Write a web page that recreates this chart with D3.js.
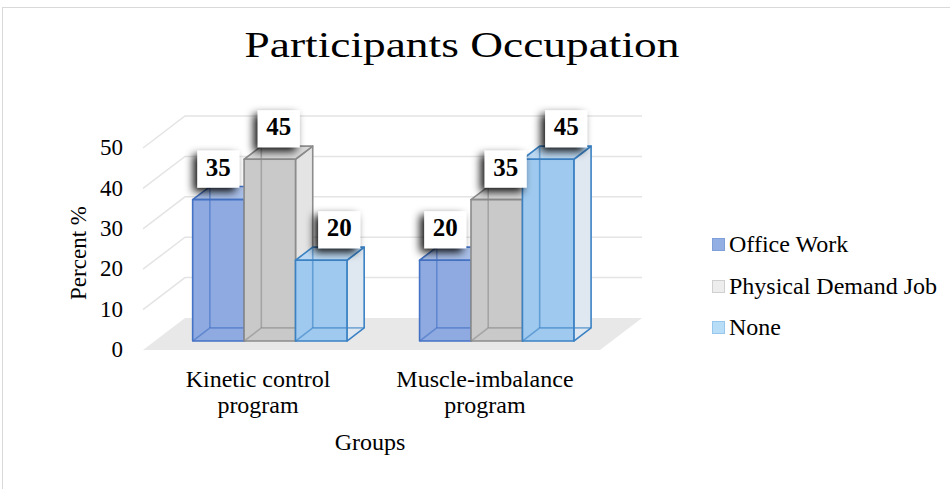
<!DOCTYPE html>
<html>
<head>
<meta charset="utf-8">
<script src="https://cdn.jsdelivr.net/npm/d3@7"></script>
<style>
  body { margin: 0; background: #fff; }
  svg { display: block; font-family: "Liberation Serif", "Times New Roman", serif; }
</style>
</head>
<body>
<svg width="950" height="489"></svg>
<script>
// Chart data
var categories = ["Kinetic control program", "Muscle-imbalance program"];
var series = ["Office Work", "Physical Demand Job", "None"];
var officeWork = [35, 20];
var physicalDemand = [45, 35];
var noneJob = [20, 45];
var yTicks = [0, 10, 20, 30, 40, 50];

var values = [officeWork, physicalDemand, noneJob];

// colours per series: front face, side face, top face, edge
var styles = [
  { front: "#8eaae0", side: "#c3d2ee", top: "#a9bfe8", edge: "#4472c4", key: "#92aee3", keyEdge: "#7f9fd9" },
  { front: "#c9c9c9", side: "#e4e4e4", top: "#d9d9d9", edge: "#8c8c8c", key: "#ededed", keyEdge: "#d0d0d0" },
  { front: "#9fc9ef", side: "#dfe8f1", top: "#bcd9f3", edge: "#3b82c4", key: "#b8def7", keyEdge: "#98c7ee" }
];

var svg = d3.select("svg"),
    width = +svg.attr("width"),
    height = +svg.attr("height");

// oblique depth of the plot box (front plane -> back wall)
var depthX = 42, depthY = 32;
var t0 = 0.28, t1 = 0.69; // depth of the columns

var y = d3.scaleLinear().domain([0, 50]).range([350, 148]);
var x0 = d3.scaleBand().domain(categories).range([143, 600])
    .paddingInner(0.32).paddingOuter(0.167);
var x1 = d3.scaleBand().domain(series).range([0, x0.bandwidth()]);

function pt(px, v, t) { return [px + depthX * t, y(v) - depthY * t]; }

// drop shadow for the data labels
var defs = svg.append("defs");
defs.append("filter").attr("id", "shadow")
    .attr("x", "-60%").attr("y", "-60%").attr("width", "220%").attr("height", "220%")
  .append("feDropShadow")
    .attr("dx", -4).attr("dy", 4).attr("stdDeviation", 4)
    .attr("flood-color", "#000").attr("flood-opacity", 0.95);

// outer border
svg.append("rect")
    .attr("x", 2.5).attr("y", 7.5).attr("width", 960).attr("height", 500)
    .attr("fill", "none").attr("stroke", "#d9d9d9");

// Title
svg.append("text")
    .attr("x", 462).attr("y", 57)
    .attr("text-anchor", "middle")
    .attr("font-size", 36)
    .attr("textLength", 435).attr("lengthAdjust", "spacingAndGlyphs")
    .text("Participants Occupation");

var x0min = x0.range()[0], x0max = x0.range()[1];

// Floor
var floor = [pt(x0min, 0, 0), pt(x0max, 0, 0), pt(x0max, 0, 1), pt(x0min, 0, 1)];
svg.append("polygon")
    .attr("points", floor.join(" "))
    .attr("fill", "#e8e8e8");

// Gridlines: side wall then back wall
svg.append("g").selectAll("polyline")
  .data(yTicks.slice(1))
  .enter().append("polyline")
    .attr("points", function(d) { return [pt(x0min, d, 0), pt(x0min, d, 1), pt(x0max, d, 1)].join(" "); })
    .attr("fill", "none")
    .attr("stroke", "#e4e4e4")
    .attr("stroke-width", 1.5);

// Y tick labels
svg.append("g").selectAll("text")
  .data(yTicks)
  .enter().append("text")
    .attr("x", 123)
    .attr("y", function(d) { return y(d) + 2; })
    .attr("text-anchor", "end")
    .attr("dominant-baseline", "middle")
    .attr("font-size", 23)
    .text(function(d) { return d; });

// Y axis title
svg.append("text")
    .attr("transform", "translate(86,253) rotate(-90)")
    .attr("text-anchor", "middle")
    .attr("font-size", 23)
    .text("Percent %");

// Category labels (wrapped at the last space)
var cat = svg.append("g").selectAll("text")
  .data(categories)
  .enter().append("text")
    .attr("text-anchor", "middle")
    .attr("font-size", 24);
cat.each(function(d) {
  var i = d.lastIndexOf(" ");
  var lines = [d.slice(0, i), d.slice(i + 1)];
  var cx = x0(d) + x0.bandwidth() / 2;
  d3.select(this).selectAll("tspan")
    .data(lines)
    .enter().append("tspan")
      .attr("x", cx)
      .attr("y", function(l, k) { return 387 + k * 26; })
      .text(function(l) { return l; });
});

// X axis title
svg.append("text")
    .attr("x", 370).attr("y", 450)
    .attr("text-anchor", "middle")
    .attr("font-size", 24)
    .text("Groups");

// Build the bar list
var bars = [];
categories.forEach(function(c, ci) {
  series.forEach(function(s, si) {
    bars.push({ cat: c, series: s, si: si, value: values[si][ci] });
  });
});

var barG = svg.append("g");
bars.forEach(function(b) {
  var st = styles[b.si];
  var xl = x0(b.cat) + x1(b.series), xr = xl + x1.bandwidth();
  var fbl = pt(xl, 0, t0), fbr = pt(xr, 0, t0), ftl = pt(xl, b.value, t0), ftr = pt(xr, b.value, t0);
  var bbl = pt(xl, 0, t1), bbr = pt(xr, 0, t1), btl = pt(xl, b.value, t1), btr = pt(xr, b.value, t1);
  var g = barG.append("g")
      .attr("stroke", st.edge)
      .attr("stroke-width", 1.6)
      .attr("stroke-linejoin", "round");
  g.append("polygon").attr("points", [fbr, bbr, btr, ftr].join(" ")).attr("fill", st.side);
  g.append("polygon").attr("points", [ftl, ftr, btr, btl].join(" ")).attr("fill", st.top);
  g.append("polygon").attr("points", [fbl, fbr, ftr, ftl].join(" ")).attr("fill", st.front);
  // hidden edges seen through the column
  g.append("polyline")
      .attr("points", [fbl, bbl, bbr].join(" "))
      .attr("fill", "none").attr("stroke-opacity", 0.6);
  g.append("line")
      .attr("x1", bbl[0]).attr("y1", bbl[1]).attr("x2", btl[0]).attr("y2", btl[1])
      .attr("stroke-opacity", 0.6);
  b.cx = (xl + xr) / 2 + depthX * t0 + b.si * 9;
  b.top = ftl[1];
});

// Data labels
var boxW = 42, boxH = 37;
var lab = svg.append("g").selectAll("g")
  .data(bars)
  .enter().append("g")
    .attr("transform", function(d) { return "translate(" + d.cx + "," + (d.top - 12 - boxH) + ")"; });
lab.append("rect")
    .attr("x", -boxW / 2).attr("width", boxW).attr("height", boxH)
    .attr("fill", "#fff")
    .attr("filter", "url(#shadow)");
lab.append("text")
    .attr("y", boxH / 2 + 1)
    .attr("text-anchor", "middle")
    .attr("dominant-baseline", "middle")
    .attr("font-size", 25)
    .attr("font-weight", "bold")
    .text(function(d) { return d.value; });

// Legend
var legend = svg.append("g").selectAll("g")
  .data(series)
  .enter().append("g")
    .attr("transform", function(d, i) { return "translate(712," + [245, 287, 328][i] + ")"; });
legend.append("rect")
    .attr("x", 0.5).attr("y", -6.5).attr("width", 12).attr("height", 12)
    .attr("fill", function(d, i) { return styles[i].key; })
    .attr("stroke", function(d, i) { return styles[i].keyEdge; });
legend.append("text")
    .attr("x", 17).attr("y", 1)
    .attr("dominant-baseline", "middle")
    .attr("font-size", 24)
    .text(function(d) { return d; });
</script>
</body>
</html>
